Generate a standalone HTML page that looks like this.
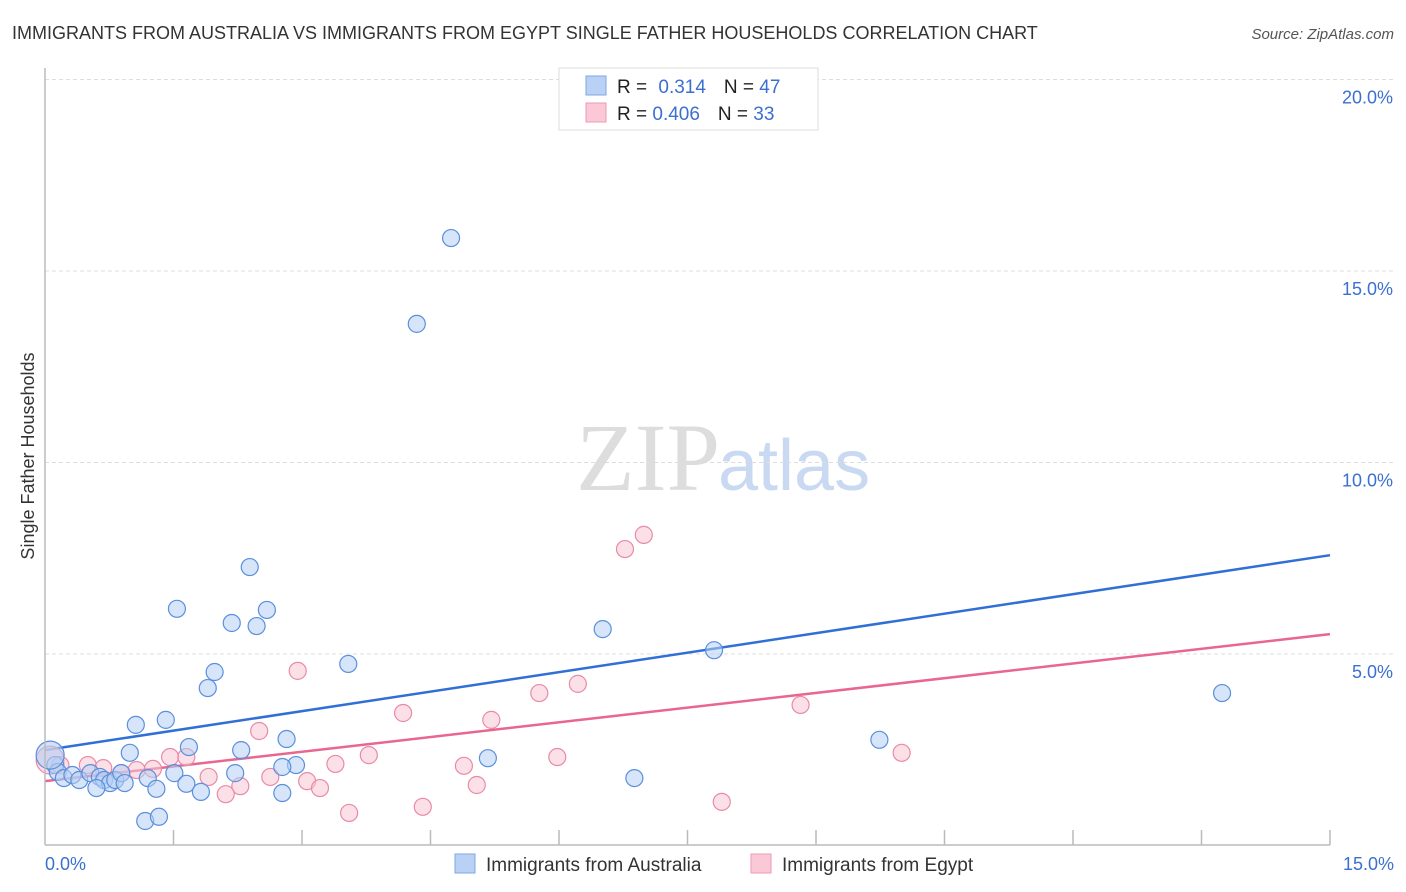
<!DOCTYPE html>
<html><head><meta charset="utf-8"><style>
body{margin:0;background:#fff;font-family:"Liberation Sans",sans-serif;}
svg{display:block}
</style></head><body>
<svg id="chart" width="1406" height="892">
<text x="12" y="39" font-size="18" fill="#333">IMMIGRANTS FROM AUSTRALIA VS IMMIGRANTS FROM EGYPT SINGLE FATHER HOUSEHOLDS CORRELATION CHART</text>
<text x="1394" y="39" font-size="15" fill="#555" font-style="italic" text-anchor="end">Source: ZipAtlas.com</text>
<text x="720" y="490" font-size="96" font-family="Liberation Serif,serif" fill="#ddd" text-anchor="end">ZIP</text>
<text x="718" y="490" font-size="72" fill="#c9d9f2">atlas</text>
<text transform="translate(34,456) rotate(-90)" font-size="18" fill="#333" text-anchor="middle">Single Father Households</text>
<g id="grid"></g><g id="ticks"></g><g id="lines"></g><g id="pts"></g>
<line x1="45" y1="68" x2="45" y2="845" stroke="#bbb" stroke-width="1.5"/>
<line x1="45" y1="845" x2="1330" y2="845" stroke="#bbb" stroke-width="1.5"/>
<text x="45" y="870" font-size="18" fill="#3b6fd1">0.0%</text>
<text x="1394" y="870" font-size="18" fill="#3b6fd1" text-anchor="end">15.0%</text>
<g>
<rect x="559" y="68" width="259" height="62" fill="#fff" stroke="#ddd"/>
<rect x="586" y="76" width="20" height="19" fill="#b9d1f5" stroke="#7fa6e3"/>
<rect x="586" y="103" width="20" height="19" fill="#fbc8d7" stroke="#ee9ab2"/>
<text x="617" y="93" font-size="19" fill="#222">R = <tspan fill="#3b6fd1" dx="6">0.314</tspan><tspan dx="18" fill="#222">N = </tspan><tspan fill="#3b6fd1">47</tspan></text>
<text x="617" y="120" font-size="19" fill="#222">R = <tspan fill="#3b6fd1">0.406</tspan><tspan dx="18" fill="#222">N = </tspan><tspan fill="#3b6fd1">33</tspan></text>
</g>
<g>
<rect x="455" y="854" width="20" height="19" fill="#b9d1f5" stroke="#7fa6e3"/>
<text x="486" y="871" font-size="19" fill="#333">Immigrants from Australia</text>
<rect x="751" y="854" width="20" height="19" fill="#fbc8d7" stroke="#ee9ab2"/>
<text x="782" y="871" font-size="19" fill="#333">Immigrants from Egypt</text>
</g>
</svg>
<script>
const yTicks=[5,10,15,20];
const yTickLabels=["5.0%","10.0%","15.0%","20.0%"];
const xTicks=[1.5,3,4.5,6,7.5,9,10.5,12,13.5,15];
const ausX=[4.74,4.34,2.39,1.54,2.59,2.18,2.47,6.51,7.81,3.54,1.98,1.90,13.74,1.06,1.41,9.74,2.82,1.68,2.29,0.99,5.17,2.93,2.77,0.12,0.15,0.22,0.32,0.40,0.53,0.64,0.69,0.76,0.82,0.89,0.93,0.60,1.20,1.51,2.22,1.65,1.30,1.82,2.77,6.88,1.17,1.33,0.06];
const ausY=[15.86,13.62,7.27,6.18,6.15,5.81,5.73,5.65,5.10,4.74,4.53,4.11,3.98,3.15,3.28,2.76,2.78,2.57,2.49,2.42,2.28,2.10,2.05,2.10,1.92,1.76,1.84,1.71,1.89,1.79,1.71,1.63,1.71,1.89,1.63,1.50,1.76,1.89,1.89,1.61,1.48,1.40,1.37,1.76,0.64,0.75,2.36];
const egyX=[6.99,6.77,2.95,6.22,5.77,8.82,4.18,5.21,2.50,10.00,3.78,5.98,1.46,1.65,3.39,4.89,0.06,0.18,0.50,0.68,1.07,1.26,0.89,1.91,2.63,3.06,3.21,5.04,2.28,2.11,7.90,4.41,3.55];
const egyY=[8.11,7.74,4.56,4.22,3.98,3.67,3.46,3.28,2.99,2.42,2.36,2.31,2.31,2.31,2.13,2.08,2.23,2.10,2.10,2.02,1.97,2.00,1.89,1.79,1.79,1.68,1.50,1.58,1.55,1.34,1.14,1.01,0.85];
const ausTrend=[2.49,7.58];
const egyTrend=[1.68,5.52];
const NS="http://www.w3.org/2000/svg";
const sx=v=>45+v/15*1285;
const sy=v=>845.5-v*38.3;
function mk(tag,attrs,parent){const e=document.createElementNS(NS,tag);for(const k in attrs)e.setAttribute(k,attrs[k]);document.getElementById(parent).appendChild(e);return e;}
yTicks.forEach((t,i)=>{
 const l=mk('line',{x1:45,x2:1394,y1:sy(t),y2:sy(t),stroke:'#ddd','stroke-dasharray':'4,3'},'grid');
 
 
 const tx=mk('text',{x:1393,y:sy(t)+24,'font-size':18,fill:'#3b6fd1','text-anchor':'end'},'grid');
 tx.textContent=yTickLabels[i];
 
 
});
xTicks.forEach(t=>{
 const l=mk('line',{x1:sx(t),x2:sx(t),y1:830,y2:845,stroke:'#bbb','stroke-width':1.5},'ticks');
 
 
});
function dots(xs,ys,fill,stroke,name){
 xs.forEach((x,i)=>{
  const big=(x<0.1);
  const c=mk('circle',{cx:sx(x),cy:sy(ys[i]),r:big?14:8.5,fill:fill,'fill-opacity':big?0.6:0.55,stroke:stroke,'stroke-width':1.2},'pts');
  
  
 });
}
dots(egyX,egyY,'#f9c6d5','#e98aa8','egypt-point');
dots(ausX,ausY,'#b5cff4','#5b8fdc','australia-point');
const l1=mk('line',{x1:sx(0),y1:sy(ausTrend[0]),x2:sx(15),y2:sy(ausTrend[1]),stroke:'#2f6fd6','stroke-width':2.5},'lines');


const l2=mk('line',{x1:sx(0),y1:sy(egyTrend[0]),x2:sx(15),y2:sy(egyTrend[1]),stroke:'#e8668f','stroke-width':2.5},'lines');


</script>
</body></html>
